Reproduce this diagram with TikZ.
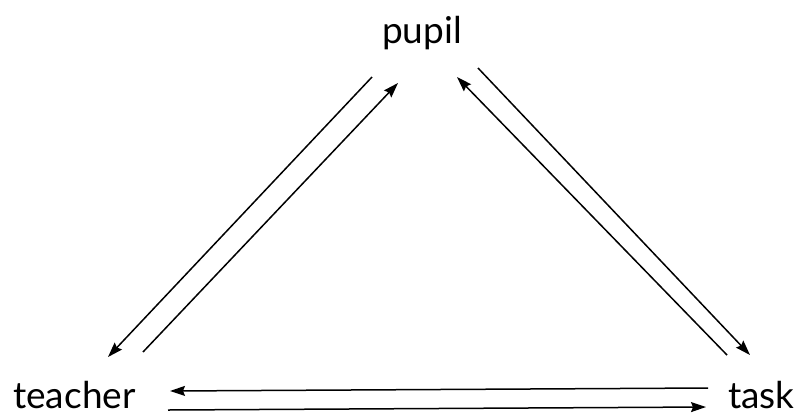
\documentclass[tikz,border=0pt]{standalone}
\usepackage{fontspec}
\setmainfont{Lato}
\usetikzlibrary{arrows.meta}
\begin{document}
\begin{tikzpicture}[x=1pt,y=-1pt,
  lbl/.style={inner sep=0pt,font=\fontsize{37}{40}\selectfont},
  conn/.style={line width=1.5pt,-{Stealth[length=15pt,width=10pt,inset=2pt]}}]
\useasboundingbox[fill=white] (0,0) rectangle (800,416);
\node[lbl,anchor=base] (pupil) at (422,43) {pupil};
\node[lbl,anchor=base west] (teacher) at (13,408) {teacher};
\node[lbl,anchor=base west] (task) at (728,408) {task};
% pupil-teacher
\coordinate (pt1) at (372,77);
\coordinate (pt2) at (108,357);
\coordinate (tp1) at (143,352);
\coordinate (tp2) at (398,83);
% pupil-task
\coordinate (ps1) at (478,68);
\coordinate (ps2) at (750,355);
\coordinate (sp1) at (727,355);
\coordinate (sp2) at (457,77);
% teacher-task
\coordinate (st1) at (708,388);
\coordinate (st2) at (170,391);
\coordinate (ts1) at (168,410);
\coordinate (ts2) at (706,407);
\draw[conn] (pt1) -- (pt2);
\draw[conn] (tp1) -- (tp2);
\draw[conn] (ps1) -- (ps2);
\draw[conn] (sp1) -- (sp2);
\draw[conn] (st1) -- (st2);
\draw[conn] (ts1) -- (ts2);
\end{tikzpicture}
\end{document}
